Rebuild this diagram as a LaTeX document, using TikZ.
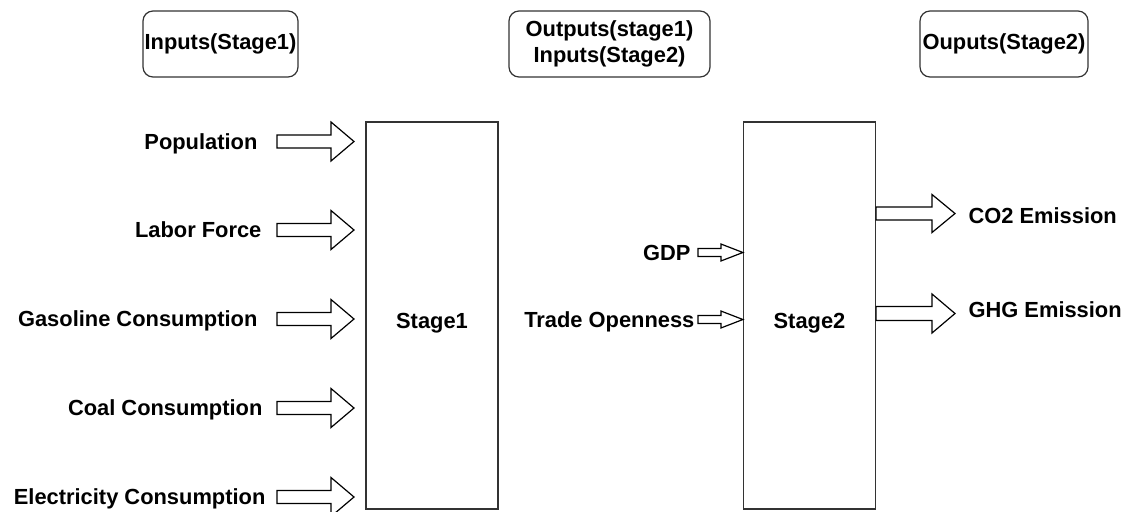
\documentclass[tikz,border=0pt]{standalone}
\usepackage{fontspec}
\setmainfont{Liberation Sans}
\usetikzlibrary{calc}
\newdimen\px \px=0.75pt

\tikzset{
  lbl/.style={inner sep=0pt, text height=0.73em, text depth=0.21em, yshift=-3\px},
  hdr/.style={draw=black!80, rounded corners=10\px, minimum width=#1, minimum height=66\px,
    align=center, inner sep=0pt},
  stagebox/.style={draw=black!80, minimum width=132\px, minimum height=387\px,
    inner sep=0pt, text height=25\px, text depth=0pt},
  fat/.style n args={3}{draw=black!80, to path={
      ($(\tikztostart)+(0,#1)$) -- ($(\tikztotarget)+(-#3,#1)$) -- ($(\tikztotarget)+(-#3,#2)$)
      -- (\tikztotarget) -- ($(\tikztotarget)+(-#3,-#2)$) -- ($(\tikztotarget)+(-#3,-#1)$)
      -- ($(\tikztostart)+(0,-#1)$) -- cycle}},
}

\begin{document}
\begin{tikzpicture}[x=0.75pt, y=-0.75pt, line width=0.9pt,
    font=\fontsize{16.4}{20}\selectfont\bfseries]
        \useasboundingbox (0,0) rectangle (1127,511);
        % headers
        \node[hdr=155\px] (hin) at (220.5,44) {Inputs(Stage1)};
        \node[hdr=201\px] (hmid) at (609.5,44) {Outputs(stage1)\\Inputs(Stage2)};
        \node[hdr=168\px] (hout) at (1004,44) {Ouputs(Stage2)};
        % stages
        \node[stagebox] (st1) at (432,315.5) {Stage1};
        \node[stagebox] (st2) at (809.5,315.5) {Stage2};
        % stage 1 inputs
        \foreach \y/\r/\n/\t in {141.5/258/pop/Population, 230/262/lab/Labor Force,
            319/258/gas/Gasoline Consumption, 408/263/coal/Coal Consumption,
            497/266/ele/Electricity Consumption} {
          \node[lbl, anchor=east] (\n) at (\r,\y+1.5) {\t};
          \coordinate (\n-s) at (277,\y);
          \coordinate (\n-e) at (354,\y);
          \draw (\n-s) to[fat={6.5}{19.5}{23}] (\n-e);
        }
        % stage 2 inputs
        \node[lbl, anchor=east] (gdp) at (691,254.5) {GDP};
        \node[lbl, anchor=east] (trade) at (695,321.5) {Trade Openness};
        \coordinate (gdp-s) at (698,252.5);
        \coordinate (trade-s) at (698,319.5);
        \draw (gdp-s) to[fat={4}{8.5}{22}] (st2.west|-gdp-s);
        \draw (trade-s) to[fat={4}{8.5}{22}] (st2.west|-trade-s);
        % stage 2 outputs
        \node[lbl, anchor=west] (co2) at (968,217) {CO2 Emission};
        \node[lbl, anchor=west] (ghg) at (968,311.5) {GHG Emission};
        \coordinate (co2-e) at (955,213.5);
        \coordinate (ghg-e) at (955,313.5);
        \draw (st2.east|-co2-e) to[fat={6.5}{19}{23}, draw=black!55] (co2-e);
        \draw (st2.east|-ghg-e) to[fat={7}{19.5}{23}] (ghg-e);
      \end{tikzpicture}
\end{document}
